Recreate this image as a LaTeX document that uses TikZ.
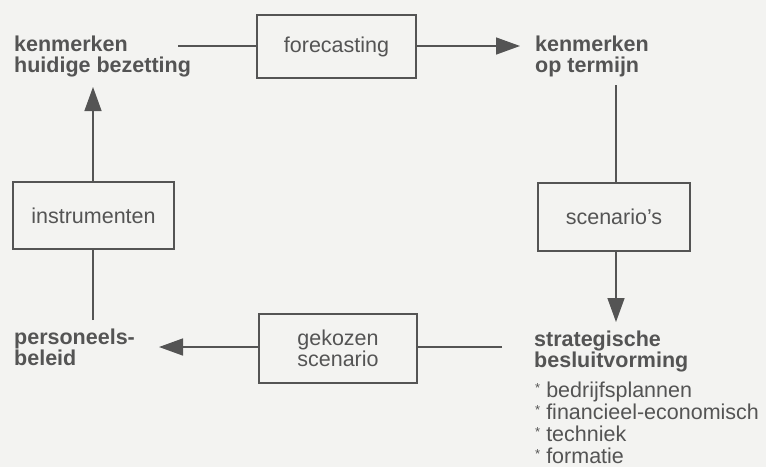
\documentclass[tikz,border=0pt]{standalone}
\usepackage{fontspec}
\setmainfont{Liberation Sans}
\usetikzlibrary{arrows.meta}
\definecolor{ink}{HTML}{545454}
\definecolor{paper}{HTML}{F3F3F1}
\tikzset{
  every node/.style={text=ink, inner sep=0pt},
  label/.style={font=\fontsize{21.5}{21}\selectfont\bfseries, align=left, anchor=base west},
  stepbox/.style={draw=ink, line width=1.6pt, font=\fontsize{21.5}{19}\selectfont, align=center},
  link/.style={draw=ink, line width=1.5pt},
  flow/.style={link, -{Triangle[length=24pt, width=17pt]}},
  item/.style={font=\fontsize{21.5}{22}\selectfont, align=left, anchor=base west},
}
\newcommand{\listmark}{\raisebox{5pt}{\fontsize{13}{13}\selectfont *}\hspace{6pt}}
\begin{document}
\begin{tikzpicture}[x=1pt, y=-1pt]
  \fill[paper] (0,0) rectangle (766,467);
  \useasboundingbox (0,0) rectangle (766,467);

  % corner labels (anchored on the baseline of their last line)
  \node[label] (kh) at (14,72) {kenmerken\\huidige bezetting};
  \node[label] (kt) at (535,72) {kenmerken\\op termijn};
  \node[label] (sb) at (534,367) {strategische\\besluitvorming};
  \node[label] (pb) at (14,365) {personeels-\\beleid};

  % boxes
  \node[stepbox, minimum width=159pt, minimum height=63pt] (fc) at (336.5,46.5) {forecasting};
  \node[stepbox, minimum width=152pt, minimum height=68pt] (sc) at (614,217) {scenario's};
  \node[stepbox, minimum width=158pt, minimum height=69pt] (gs) at (338,348.5) {gekozen\\scenario};
  \node[stepbox, minimum width=161pt, minimum height=67pt] (in) at (93.5,215.5) {instrumenten};

  % free ends of the connectors
  \coordinate (khR) at (178,46);
  \coordinate (ktR) at (520,46);
  \coordinate (ktB) at (616,85);
  \coordinate (sbT) at (616,322);
  \coordinate (sbL) at (502,347);
  \coordinate (pbR) at (159,347);
  \coordinate (pbT) at (93,320);
  \coordinate (khB) at (93,87);

  % connectors
  \draw[link] (khR) -- (fc.west |- khR);
  \draw[flow] (fc.east |- khR) -- (ktR);
  \draw[link] (ktB) -- (ktB |- sc.north);
  \draw[flow] (sbT |- sc.south) -- (sbT);
  \draw[link] (sbL) -- (gs.east |- sbL);
  \draw[flow] (gs.west |- pbR) -- (pbR);
  \draw[link] (pbT) -- (pbT |- in.south);
  \draw[flow] (khB |- in.north) -- (khB);

  % list under strategische besluitvorming
  \node[item] (i1) at (535,397) {\listmark bedrijfsplannen};
  \node[item] (i2) at (535,419) {\listmark financieel-economisch};
  \node[item] (i3) at (535,441) {\listmark techniek};
  \node[item] (i4) at (535,463) {\listmark formatie};
\end{tikzpicture}
\end{document}
